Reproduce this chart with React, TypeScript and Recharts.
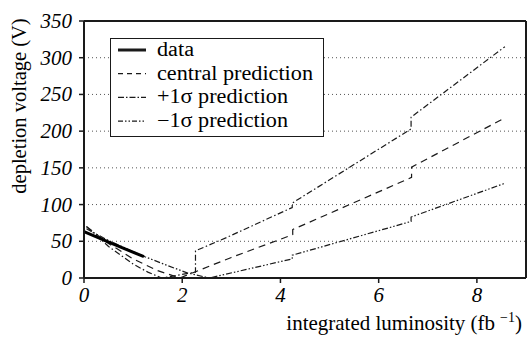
import React from 'react';
import { LineChart, Line, XAxis, YAxis, CartesianGrid, Legend, ReferenceLine, Label } from 'recharts';

// measured data and model curves (luminosity in fb^-1, voltage in V)
const dataX = [0, 0.6, 1.22];
const dataV = [63, 46, 29];

const centralX = [0.05, 0.5, 1.0, 1.5, 1.95, 3.0, 4.25, 4.25, 6.67, 6.67, 8.57];
const centralV = [70, 47, 26, 10, 0, 28, 59, 66, 137, 151, 218];

const plusX = [0.05, 0.5, 1.0, 1.3, 1.58, 2.27, 2.27, 2.9, 4.24, 4.24, 6.66, 6.66, 8.57];
const plusV = [70, 43, 19, 8, 0, 8, 37, 55, 96, 102, 203, 219, 315];

const minusX = [0.05, 0.5, 1.0, 1.24, 1.7, 2.1, 2.55, 4.24, 4.24, 6.66, 6.66, 8.57];
const minusV = [67, 51, 36, 29, 17, 7, 0, 26, 31, 77, 83, 129];

const xTicks = [0, 2, 4, 6, 8];
const yTicks = [0, 50, 100, 150, 200, 250, 300, 350];

const toPoints = (xs: number[], vs: number[]) => xs.map((x, i) => ({ x, v: vs[i] }));

const dataPts = toPoints(dataX, dataV);
const centralPts = toPoints(centralX, centralV);
const plusPts = toPoints(plusX, plusV);
const minusPts = toPoints(minusX, minusV);

const serif = 'Liberation Serif, Times New Roman, serif';
const ink = '#1a1a1a';

const legendItems = [
  { name: 'data', dash: undefined, width: 3, len: 37 },
  { name: 'central prediction', dash: '5 4', width: 1.2, len: 156 },
  { name: '+1\u03C3 prediction', dash: '6 2 1.5 2', width: 1.2, len: 131 },
  { name: '\u22121\u03C3 prediction', dash: '5 2 1.5 2 1.5 2', width: 1.2, len: 131 },
];

const renderLegend = () => (
  <svg width={214} height={99} style={{ display: 'block' }}>
    <rect x={0.5} y={0.5} width={213} height={98} fill="#fff" stroke={ink} strokeWidth={1} />
    {legendItems.map((it, i) => {
      const cy = 12 + i * 23.7;
      return (
        <g key={it.name}>
          <line x1={8} x2={36} y1={cy} y2={cy} stroke={ink} strokeWidth={it.width} strokeDasharray={it.dash} />
          <text x={47} y={cy + 6} style={{ fontFamily: serif, fontSize: 20 }} fill="#000"
            textLength={it.len} lengthAdjust="spacingAndGlyphs">{it.name}</text>
        </g>
      );
    })}
  </svg>
);

const XTick = (props: any) => {
  const { x, y, payload } = props;
  return (
    <text x={x} y={y + 17} textAnchor="middle" fill="#000"
      style={{ fontFamily: serif, fontStyle: 'italic', fontSize: 21 }}>{payload.value}</text>
  );
};

const YTick = (props: any) => {
  const { x, y, payload } = props;
  return (
    <text x={x} y={y + 7} textAnchor="end" fill="#000"
      style={{ fontFamily: serif, fontStyle: 'italic', fontSize: 21 }}>{payload.value}</text>
  );
};

const renderXLabel = () => (
  <text x={522} y={330} textAnchor="end" fill="#000" style={{ fontFamily: serif, fontSize: 21 }}>
    integrated luminosity (fb
    <tspan dx={5} dy={-8} style={{ fontSize: 14 }}>{'\u22121'}</tspan>
    <tspan dy={8}>)</tspan>
  </text>
);

const renderYLabel = () => (
  <text x={26} y={106} transform="rotate(-90, 26, 106)" textAnchor="middle" fill="#000"
    style={{ fontFamily: serif, fontSize: 20.5 }}>depletion voltage (V)</text>
);

const App: React.FC = () => {
  return (
    <div style={{ position: 'absolute', left: 0, top: 0, width: 528, height: 337, background: '#fff' }}>
      <LineChart width={528} height={337} margin={{ top: 21, right: 2, left: 0, bottom: 0 }}>
        <CartesianGrid vertical={false} stroke="#555" strokeDasharray="1 3" />
        <XAxis
          dataKey="x"
          type="number"
          domain={[0, 9]}
          ticks={xTicks}
          height={59}
          axisLine={{ stroke: ink, strokeWidth: 2 }}
          tickLine={{ stroke: ink, strokeWidth: 1.5 }}
          tickSize={5}
          tickMargin={2}
          tick={<XTick />}
        >
          <Label content={renderXLabel} />
        </XAxis>
        <YAxis
          type="number"
          domain={[0, 350]}
          ticks={yTicks}
          width={84}
          axisLine={{ stroke: ink, strokeWidth: 2 }}
          tickLine={{ stroke: ink, strokeWidth: 1.5 }}
          tickSize={5}
          tickMargin={7}
          tick={<YTick />}
        >
          <Label content={renderYLabel} />
        </YAxis>
        <ReferenceLine y={350} stroke={ink} strokeWidth={2} />
        <ReferenceLine x={9} stroke={ink} strokeWidth={2} />
        <Line data={centralPts} dataKey="v" name="central prediction" type="linear" stroke={ink}
          strokeWidth={1.2} strokeDasharray="7 5" dot={false} isAnimationActive={false} />
        <Line data={plusPts} dataKey="v" name="+1σ prediction" type="linear" stroke={ink}
          strokeWidth={1.2} strokeDasharray="6 2.5 1.5 2.5" dot={false} isAnimationActive={false} />
        <Line data={minusPts} dataKey="v" name="−1σ prediction" type="linear" stroke={ink}
          strokeWidth={1.2} strokeDasharray="6 2 1.5 2 1.5 2" dot={false} isAnimationActive={false} />
        <Line data={dataPts} dataKey="v" name="data" type="linear" stroke="#000"
          strokeWidth={3} dot={false} isAnimationActive={false} />
        <Legend
          layout="vertical"
          align="center"
          verticalAlign="middle"
          content={renderLegend}
          wrapperStyle={{ position: 'absolute', left: 110, top: 38, width: 214, height: 99 }}
        />
      </LineChart>
    </div>
  );
};

export default App;
